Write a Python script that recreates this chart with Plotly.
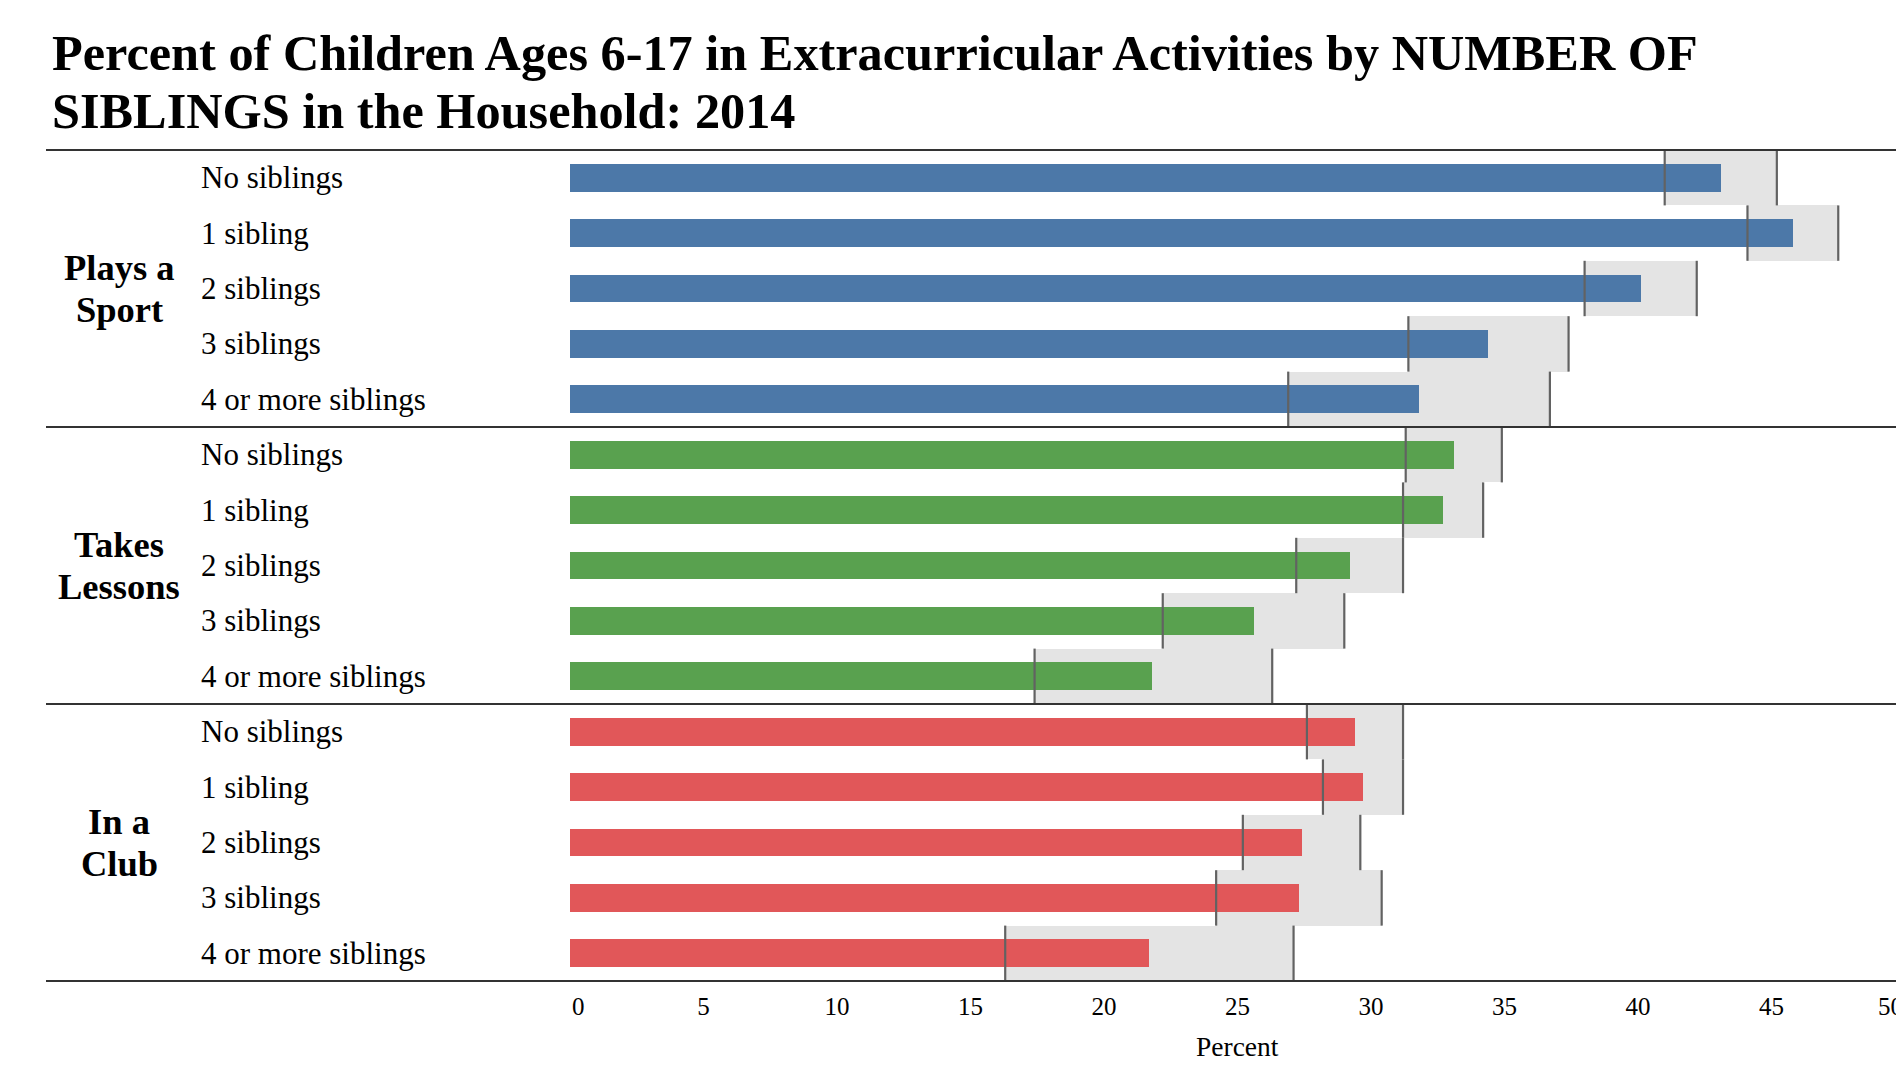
import plotly.graph_objects as go

# ---------------- data ----------------
groups = ["Plays a Sport", "Takes Lessons", "In a Club"]
group_lines = [["Plays a", "Sport"], ["Takes", "Lessons"], ["In a", "Club"]]
siblings = ["No siblings", "1 sibling", "2 siblings", "3 siblings", "4 or more siblings"]

sport_pct = [43.1, 45.8, 40.1, 34.4, 31.8]
sport_low = [41.0, 44.1, 38.0, 31.4, 26.9]
sport_high = [45.2, 47.5, 42.2, 37.4, 36.7]

lessons_pct = [33.1, 32.7, 29.2, 25.6, 21.8]
lessons_low = [31.3, 31.2, 27.2, 22.2, 17.4]
lessons_high = [34.9, 34.2, 31.2, 29.0, 26.3]

club_pct = [29.4, 29.7, 27.4, 27.3, 21.7]
club_low = [27.6, 28.2, 25.2, 24.2, 16.3]
club_high = [31.2, 31.2, 29.6, 30.4, 27.1]

tick_values = [5, 10, 15, 20, 25, 30, 35, 40, 45]

title_lines = [
    "Percent of Children Ages 6-17 in Extracurricular Activities by NUMBER OF",
    "SIBLINGS in the Household: 2014",
]

pct = [sport_pct, lessons_pct, club_pct]
low = [sport_low, lessons_low, club_low]
high = [sport_high, lessons_high, club_high]
colors = ["#4c78a8", "#59a14f", "#e15759"]

# ---------------- layout constants (px) ----------------
W, H = 1896, 1069
PL, PT, PB = 570, 150, 981
PX_PER_UNIT = 26.7
X_MAX = (W - PL) / PX_PER_UNIT
PW = W - PL
PH = PB - PT
ROW_H = PH / 15

SERIF = "Liberation Serif, Times New Roman, serif"


def px_to_paper_x(px):
    return (px - PL) / PW


def px_to_paper_y(py):
    return (PB - py) / PH


keys = [f"{g}|{s}" for g in groups for s in siblings]

fig = go.Figure()

for gi, g in enumerate(groups):
    ys = [f"{g}|{s}" for s in siblings]
    widths = [h - l for h, l in zip(high[gi], low[gi])]
    fig.add_trace(go.Bar(
        y=ys, x=widths, base=low[gi], orientation="h", width=1.0,
        marker=dict(color="#e4e4e4", line=dict(width=0)),
        hoverinfo="skip", showlegend=False))
    fig.add_trace(go.Bar(
        y=ys, x=pct[gi], orientation="h", width=0.5,
        marker=dict(color=colors[gi], line=dict(width=0)),
        name=g, showlegend=False))
    # 'line-ns' marker length is 1.4 x size
    fig.add_trace(go.Scatter(
        y=ys + ys, x=low[gi] + high[gi], mode="markers",
        marker=dict(symbol="line-ns", size=ROW_H / 1.4,
                    line=dict(width=2.2, color="#626262")),
        hoverinfo="skip", showlegend=False))

annotations = []
# title (two lines)
for line, cy in zip(title_lines, [53, 111]):
    annotations.append(dict(
        text=f"<b>{line}</b>", xref="paper", yref="paper",
        x=px_to_paper_x(50), y=px_to_paper_y(cy), xanchor="left", yanchor="middle",
        showarrow=False, font=dict(family=SERIF, size=50.3, color="black")))
# row labels
for g in groups:
    for s in siblings:
        annotations.append(dict(
            text=s, xref="paper", yref="y", x=px_to_paper_x(199), y=f"{g}|{s}",
            xanchor="left", yanchor="middle", showarrow=False,
            font=dict(family=SERIF, size=31, color="black")))
# group labels
for gi, g in enumerate(groups):
    mid = f"{g}|{siblings[2]}"
    for line, shift in zip(group_lines[gi], [21, -21]):
        annotations.append(dict(
            text=f"<b>{line}</b>", xref="paper", yref="y",
            x=px_to_paper_x(119), y=mid, xanchor="center", yanchor="middle",
            yshift=shift, showarrow=False,
            font=dict(family=SERIF, size=36.5, color="black")))
# flush end tick labels
annotations.append(dict(
    text="0", xref="paper", yref="paper", x=px_to_paper_x(PL), y=px_to_paper_y(1006),
    xanchor="left", yanchor="middle", showarrow=False,
    font=dict(family=SERIF, size=25, color="black")))
annotations.append(dict(
    text="50", xref="paper", yref="paper", x=px_to_paper_x(PL + 50 * PX_PER_UNIT),
    y=px_to_paper_y(1006), xanchor="right", yanchor="middle", showarrow=False,
    font=dict(family=SERIF, size=25, color="black")))
# axis title
annotations.append(dict(
    text="Percent", xref="paper", yref="paper",
    x=px_to_paper_x(PL + 25 * PX_PER_UNIT), y=px_to_paper_y(1046),
    xanchor="center", yanchor="middle", showarrow=False,
    font=dict(family=SERIF, size=27.5, color="black")))

shapes = []
for yp in [1.0, 2 / 3, 1 / 3, 0.0]:
    shapes.append(dict(type="line", xref="paper", yref="paper",
                       x0=px_to_paper_x(46), x1=1.02, y0=yp, y1=yp,
                       line=dict(color="#333333", width=2)))

fig.update_layout(
    width=W, height=H,
    margin=dict(l=PL, r=0, t=PT, b=H - PB, pad=0),
    paper_bgcolor="white", plot_bgcolor="white",
    barmode="overlay",
    bargap=0,
    showlegend=False,
    xaxis=dict(range=[0, X_MAX], showgrid=False, zeroline=False, showline=False,
               ticks="", tickmode="array", tickvals=tick_values,
               ticktext=[str(v) for v in tick_values],
               tickfont=dict(family=SERIF, size=25, color="black"),
               ticklabelstandoff=8,
               fixedrange=True),
    yaxis=dict(type="category", categoryorder="array", categoryarray=keys,
               range=[14.5, -0.5], showticklabels=False, showgrid=False,
               zeroline=False, showline=False, ticks="", fixedrange=True),
    annotations=annotations,
    shapes=shapes,
)

fig.write_html(
    "out.html",
    config={"displayModeBar": False},
    post_script="document.body.style.margin='0px';document.body.style.overflow='hidden';",
)
